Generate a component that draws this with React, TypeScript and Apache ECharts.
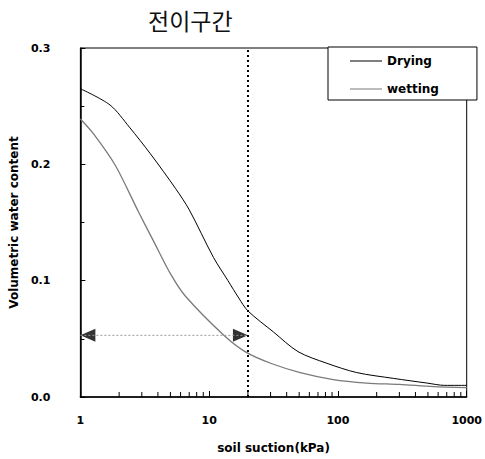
import React, { useEffect, useRef } from "react";
import * as echarts from "echarts";

const titleText = "전이구간";
const xTickLabels = ["1", "10", "100", "1000"];
const yTickValues = [0, 0.1, 0.2, 0.3];

const dryingX = [1, 1.7, 2.4, 3.5, 5.5, 7, 10.8, 14, 17, 20, 31.5, 49, 82, 140, 270, 490, 675, 1000];
const dryingY = [0.265, 0.251, 0.232, 0.209, 0.179, 0.161, 0.12, 0.1, 0.085, 0.074, 0.056, 0.039, 0.029, 0.021, 0.016, 0.012, 0.01, 0.01];

const wettingX = [1, 1.27, 1.87, 2.83, 3.7, 5, 6.5, 13, 19, 30, 51, 92, 167, 300, 550, 1000];
const wettingY = [0.239, 0.226, 0.199, 0.159, 0.134, 0.106, 0.087, 0.053, 0.039, 0.029, 0.021, 0.015, 0.012, 0.0108, 0.009, 0.008];

const transitionSuction = 20;
const arrowFromX = 1;
const arrowToX = 20;
const arrowY = 0.053;

const xMinorTicks = [2, 3, 4, 5, 6, 7, 8, 9, 20, 30, 40, 50, 60, 70, 80, 90, 200, 300, 400, 500, 600, 700, 800, 900];

const FONT = "DejaVu Sans";
const LINE_ICON = "path://M0,5.4 H32 V6.6 H0 Z M0,0 H0.01 V12 H0 Z";

export default function App() {
  const ref = useRef<HTMLDivElement>(null);
  useEffect(() => {
    document.body.style.margin = "0";
    if (!ref.current) return;
    const chart = echarts.init(ref.current, null, { renderer: "svg" });
    chart.setOption({
      animation: false,
      backgroundColor: "#fff",
      title: {
        text: titleText,
        left: 143,
        top: 3,
        textStyle: { fontFamily: "Noto Sans CJK KR", fontSize: 23, fontWeight: "normal", color: "#111" },
      },
      legend: {
        data: [
          { name: "Drying", icon: LINE_ICON },
          { name: "wetting", icon: LINE_ICON },
        ],
        orient: "vertical",
        left: 328,
        top: 47,
        padding: [8, 38, 5, 22],
        itemGap: 16,
        itemWidth: 32,
        itemHeight: 12,
        borderColor: "#000",
        borderWidth: 1,
        backgroundColor: "#fff",
        textStyle: { fontFamily: FONT, fontWeight: "bold", fontSize: 12, color: "#000" },
      },
      grid: { left: 80, right: 18, top: 48, bottom: 58, show: true, borderColor: "#000", borderWidth: 1 },
      xAxis: {
        type: "log",
        logBase: 10,
        min: 1,
        max: 1000,
        name: "soil suction(kPa)",
        nameLocation: "middle",
        nameGap: 45,
        nameTextStyle: { fontFamily: FONT, fontWeight: "bold", fontSize: 12, color: "#000" },
        axisLine: { lineStyle: { color: "#000", width: 1.5 } },
        axisTick: { inside: true, length: 6, lineStyle: { color: "#000" } },
        axisLabel: {
          margin: 18,
          fontFamily: FONT,
          fontWeight: "bold",
          fontSize: 11,
          color: "#000",
          formatter: (v: number) => xTickLabels[Math.round(Math.log10(v))] ?? "",
        },
        splitLine: { show: false },
      },
      yAxis: {
        type: "value",
        min: 0,
        max: 0.3,
        interval: 0.1,
        name: "Volumetric water content",
        nameLocation: "middle",
        nameRotate: 90,
        nameGap: 60,
        nameTextStyle: { fontFamily: FONT, fontWeight: "bold", fontSize: 12, color: "#000" },
        axisLine: { show: true, lineStyle: { color: "#000", width: 1.5 } },
        axisTick: { inside: true, length: 5, lineStyle: { color: "#000" } },
        minorTick: { show: true, splitNumber: 2, length: 4, lineStyle: { color: "#000" } },
        axisLabel: {
          margin: 30,
          fontFamily: FONT,
          fontWeight: "bold",
          fontSize: 11,
          color: "#000",
          formatter: (v: number) => (yTickValues.some((t) => Math.abs(t - v) < 1e-9) ? v.toFixed(1) : ""),
        },
        splitLine: { show: false },
      },
      series: [
        {
          name: "Drying",
          type: "line",
          symbol: "none",
          smooth: 0.3,
          data: dryingX.map((x, i) => [x, dryingY[i]]),
          lineStyle: { color: "#000", width: 1 },
          itemStyle: { color: "#000" },
          markLine: {
            silent: true,
            symbol: "none",
            label: { show: false },
            lineStyle: { color: "#000", type: [2, 3], width: 2 },
            data: [{ xAxis: transitionSuction }],
          },
        },
        {
          name: "wetting",
          type: "line",
          symbol: "none",
          smooth: 0.3,
          data: wettingX.map((x, i) => [x, wettingY[i]]),
          lineStyle: { color: "#7a7a7a", width: 1.3 },
          itemStyle: { color: "#7a7a7a" },
        },
        {
          name: "range",
          type: "line",
          symbol: "none",
          silent: true,
          data: [[arrowFromX, arrowY], [arrowToX, arrowY]],
          lineStyle: { color: "#999", width: 1, type: [2, 2] },
        },
        {
          name: "arrowL",
          type: "scatter",
          silent: true,
          data: [[arrowFromX, arrowY]],
          symbol: "path://M10,0 L0,5 L10,10 Z",
          symbolSize: [15, 13],
          symbolOffset: [7.5, 0],
          itemStyle: { color: "#000" },
        },
        {
          name: "arrowR",
          type: "scatter",
          silent: true,
          data: [[arrowToX, arrowY]],
          symbol: "path://M0,0 L10,5 L0,10 Z",
          symbolSize: [15, 13],
          symbolOffset: [-7.5, 0],
          itemStyle: { color: "#000" },
        },
        {
          name: "minorTicks",
          type: "custom",
          silent: true,
          clip: false,
          data: xMinorTicks.map((v) => [v, 0]),
          renderItem: (_params: any, api: any) => {
            const p = api.coord([api.value(0), 0]);
            return {
              type: "line",
              shape: { x1: p[0], y1: p[1], x2: p[0], y2: p[1] - 5 },
              style: { stroke: "#000", lineWidth: 1 },
            };
          },
        },
      ],
    });
    return () => chart.dispose();
  }, []);
  return <div ref={ref} style={{ width: 485, height: 459 }} />;
}
